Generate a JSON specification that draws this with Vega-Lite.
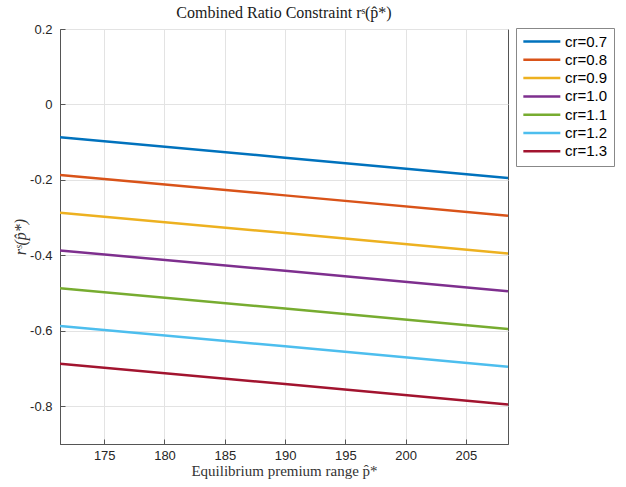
{
  "$schema": "https://vega.github.io/schema/vega-lite/v6.json",
  "autosize": "none",
  "width": 448,
  "height": 415,
  "padding": {"left": 60, "top": 29, "right": 118, "bottom": 43},
  "background": "white",
  "config": {
    "view": {"stroke": "#555555", "strokeWidth": 1},
    "font": "Liberation Sans"
  },
  "title": {
    "text": "Combined Ratio Constraint rˢ(p̂*)",
    "font": "Liberation Serif",
    "fontSize": 16,
    "fontWeight": "normal",
    "color": "#1a1a1a",
    "anchor": "middle",
    "offset": 2
  },
  "data": {
    "values": [
      {"series": "cr=0.7", "p": 171.33, "r": -0.087},
      {"series": "cr=0.7", "p": 190, "r": -0.141},
      {"series": "cr=0.7", "p": 208.5, "r": -0.195},
      {"series": "cr=0.8", "p": 171.33, "r": -0.187},
      {"series": "cr=0.8", "p": 190, "r": -0.241},
      {"series": "cr=0.8", "p": 208.5, "r": -0.295},
      {"series": "cr=0.9", "p": 171.33, "r": -0.287},
      {"series": "cr=0.9", "p": 190, "r": -0.341},
      {"series": "cr=0.9", "p": 208.5, "r": -0.395},
      {"series": "cr=1.0", "p": 171.33, "r": -0.387},
      {"series": "cr=1.0", "p": 190, "r": -0.441},
      {"series": "cr=1.0", "p": 208.5, "r": -0.495},
      {"series": "cr=1.1", "p": 171.33, "r": -0.487},
      {"series": "cr=1.1", "p": 190, "r": -0.541},
      {"series": "cr=1.1", "p": 208.5, "r": -0.595},
      {"series": "cr=1.2", "p": 171.33, "r": -0.587},
      {"series": "cr=1.2", "p": 190, "r": -0.641},
      {"series": "cr=1.2", "p": 208.5, "r": -0.695},
      {"series": "cr=1.3", "p": 171.33, "r": -0.687},
      {"series": "cr=1.3", "p": 190, "r": -0.741},
      {"series": "cr=1.3", "p": 208.5, "r": -0.795}
    ]
  },
  "mark": {"type": "line", "strokeWidth": 2.5, "clip": true},
  "encoding": {
    "x": {
      "field": "p",
      "type": "quantitative",
      "scale": {"domain": [171.33, 208.5], "nice": false, "zero": false},
      "axis": {
        "values": [175, 180, 185, 190, 195, 200, 205],
        "title": "Equilibrium premium range p̂*",
        "titleFont": "Liberation Serif",
        "titleFontSize": 15,
        "titleFontWeight": "normal",
        "titleColor": "#333333",
        "titlePadding": 1,
        "labelFont": "Liberation Sans",
        "labelFontSize": 13,
        "labelColor": "#262626",
        "labelPadding": 10,
        "tickSize": -5,
        "tickColor": "#555555",
        "domainColor": "#555555",
        "gridColor": "#e3e3e3",
        "grid": true
      }
    },
    "y": {
      "field": "r",
      "type": "quantitative",
      "scale": {"domain": [-0.9, 0.2], "nice": false, "zero": false},
      "axis": {
        "values": [0.2, 0, -0.2, -0.4, -0.6, -0.8],
        "labelExpr": "'' + datum.value",
        "title": "rˢ(p̂*)",
        "titleFont": "Liberation Serif",
        "titleFontStyle": "italic",
        "titleFontSize": 16,
        "titleFontWeight": "normal",
        "titleColor": "#333333",
        "titlePadding": 1,
        "labelFont": "Liberation Sans",
        "labelFontSize": 13,
        "labelColor": "#262626",
        "labelPadding": 13,
        "tickSize": -5,
        "tickColor": "#555555",
        "domainColor": "#555555",
        "gridColor": "#e3e3e3",
        "grid": true
      }
    },
    "color": {
      "field": "series",
      "type": "nominal",
      "scale": {
        "domain": ["cr=0.7", "cr=0.8", "cr=0.9", "cr=1.0", "cr=1.1", "cr=1.2", "cr=1.3"],
        "range": ["#0072BD", "#D95319", "#EDB120", "#7E2F8E", "#77AC30", "#4DBEEE", "#A2142F"]
      },
      "legend": {
        "title": null,
        "orient": "none",
        "legendX": 456,
        "legendY": -1,
        "symbolType": "M-1,0H5",
        "symbolSize": 152,
        "symbolStrokeWidth": 2.5,
        "symbolFillColor": "transparent",
        "labelFont": "Liberation Sans",
        "labelFontSize": 15,
        "labelColor": "#000000",
        "labelOffset": 28,
        "rowPadding": 2.3,
        "padding": 6,
        "strokeColor": "#888888",
        "fillColor": "white",
        "cornerRadius": 0
      }
    }
  }
}
